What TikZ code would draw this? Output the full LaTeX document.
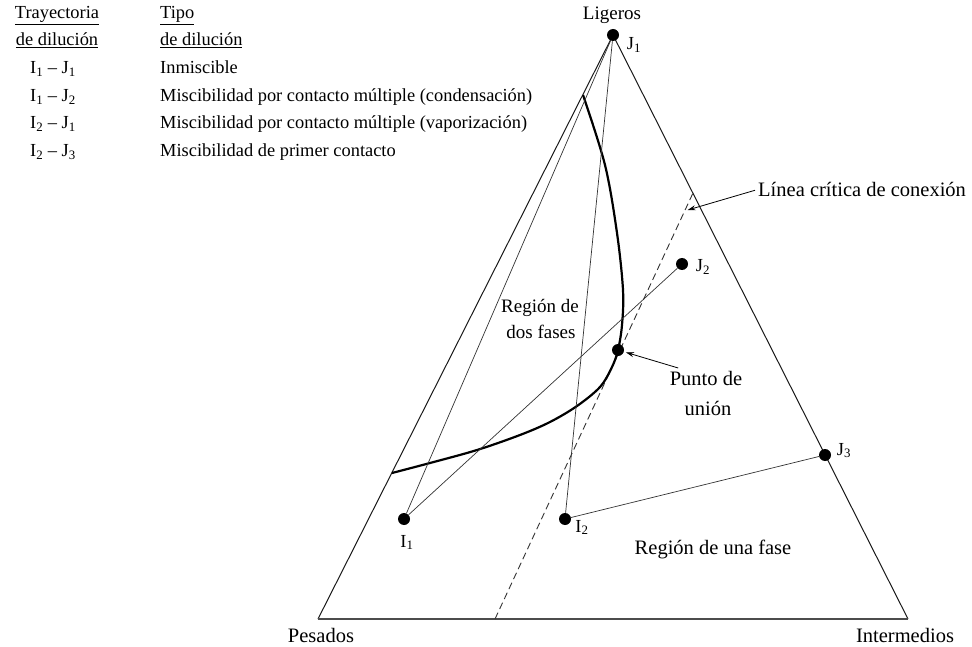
\documentclass[tikz,border=0pt]{standalone}
\usepackage{fontspec}
\setmainfont{Liberation Serif}
\usetikzlibrary{arrows.meta, positioning, calc}
\tikzset{
  dot/.style={circle, fill=black, inner sep=0pt, minimum size=12pt},
  edge/.style={line width=1pt, black!90},
  baseedge/.style={line width=1.6pt, black!70},
  tieline/.style={line width=0.7pt, black!80},
  critline/.style={line width=0.9pt, black!80, dash pattern=on 7pt off 4pt},
  binodal/.style={line width=2.2pt, black},
  pointer/.style={-{Stealth[length=8pt, width=5pt]}, line width=0.8pt},
  lbl/.style={inner sep=2pt, anchor=base},
  lblw/.style={inner sep=2pt, anchor=base west},
  big/.style={font=\fontsize{20.5}{30}\selectfont},
  mid/.style={font=\fontsize{19}{27}\selectfont},
}

\begin{document}
\begin{tikzpicture}[x=1pt, y=-1pt, font=\fontsize{18.4}{27}\selectfont]
\useasboundingbox (0,0) rectangle (972,647);

% legend
\node[lbl] (tray1) at (57,19) {\underline{Trayectoria}};
\node[lbl] (tray2) at (57,46) {\underline{de dilución}};
\node[lblw] (tipo1) at (158,19) {\underline{Tipo}};
\node[lblw] (tipo2) at (158,46) {\underline{de dilución}};
\node[lbl] (path1) at (53,74) {I\textsubscript{1} -- J\textsubscript{1}};
\node[lbl] (path2) at (53,102) {I\textsubscript{1} -- J\textsubscript{2}};
\node[lbl] (path3) at (53,129) {I\textsubscript{2} -- J\textsubscript{1}};
\node[lbl] (path4) at (53,157) {I\textsubscript{2} -- J\textsubscript{3}};
\node[lblw] (type1) at (158,74) {Inmiscible};
\node[lblw] (type2) at (158,102) {Miscibilidad por contacto múltiple (condensación)};
\node[lblw] (type3) at (158,129) {Miscibilidad por contacto múltiple (vaporización)};
\node[lblw] (type4) at (158,157) {Miscibilidad de primer contacto};

% ternary triangle
\coordinate (v-lig) at (613,35);
\coordinate (v-pes) at (318,619);
\coordinate (v-int) at (908,619);
\draw[edge] (v-pes) -- (v-lig) -- (v-int);
\draw[baseedge] (v-pes) -- (v-int);
\node[lbl, mid] (ligeros) at (612,20) {Ligeros};
\node[lbl, big] (pesados) at (321,642) {Pesados};
\node[lbl, big] (intermedios) at (905,642) {Intermedios};

% critical tie line
\coordinate (crit-bot) at (495,619);
\coordinate (crit-top) at (693,193);
\coordinate (crit-hit) at ($(crit-bot)!0.958!(crit-top)$);
\draw[critline] (crit-bot) -- (crit-top);

% two-phase envelope
\draw[binodal] plot[smooth, tension=0.55] coordinates {(583,95) (605,165) (617,233) (623,290) (622,325) (618,350) (612,367) (600,387) (577,406) (550,422) (520,435) (477,450) (430,463) (392,473)};

% compositions
\node[dot] (J1) at (613,35) {};
\node[dot] (J2) at (682,264) {};
\node[dot] (J3) at (825,455) {};
\node[dot] (I1) at (404,519) {};
\node[dot] (I2) at (565,519) {};
\node[dot] (union) at (618,350) {};
\node[lbl] at (634,50) {J\textsubscript{1}};
\node[lbl] at (703,272) {J\textsubscript{2}};
\node[lbl] at (844,455) {J\textsubscript{3}};
\node[lbl] at (407,547) {I\textsubscript{1}};
\node[lbl] at (582,532) {I\textsubscript{2}};

% dilution paths
\draw[tieline] (I1) -- (J1);
\draw[tieline] (I1) -- (J2);
\draw[tieline] (I2) -- (J1);
\draw[tieline] (I2) -- (J3);

% region labels
\node[lbl, mid] (dos1) at (540,312) {Región de};
\node[lbl, mid] (dos2) at (541,338) {dos fases};
\node[lbl, big] (una) at (713,554) {Región de una fase};
\node[lbl, big] (punto1) at (706,385) {Punto de};
\node[lbl, big] (punto2) at (708,415) {unión};
\node[lblw, big] (critlabel) at (756,197) {Línea crítica de conexión};
\draw[pointer, shorten <=1pt, shorten >=3pt] (critlabel.west) -- (crit-hit);
\draw[pointer, shorten <=2pt, shorten >=2pt] (punto1.160) -- (union);
\end{tikzpicture}
\end{document}
